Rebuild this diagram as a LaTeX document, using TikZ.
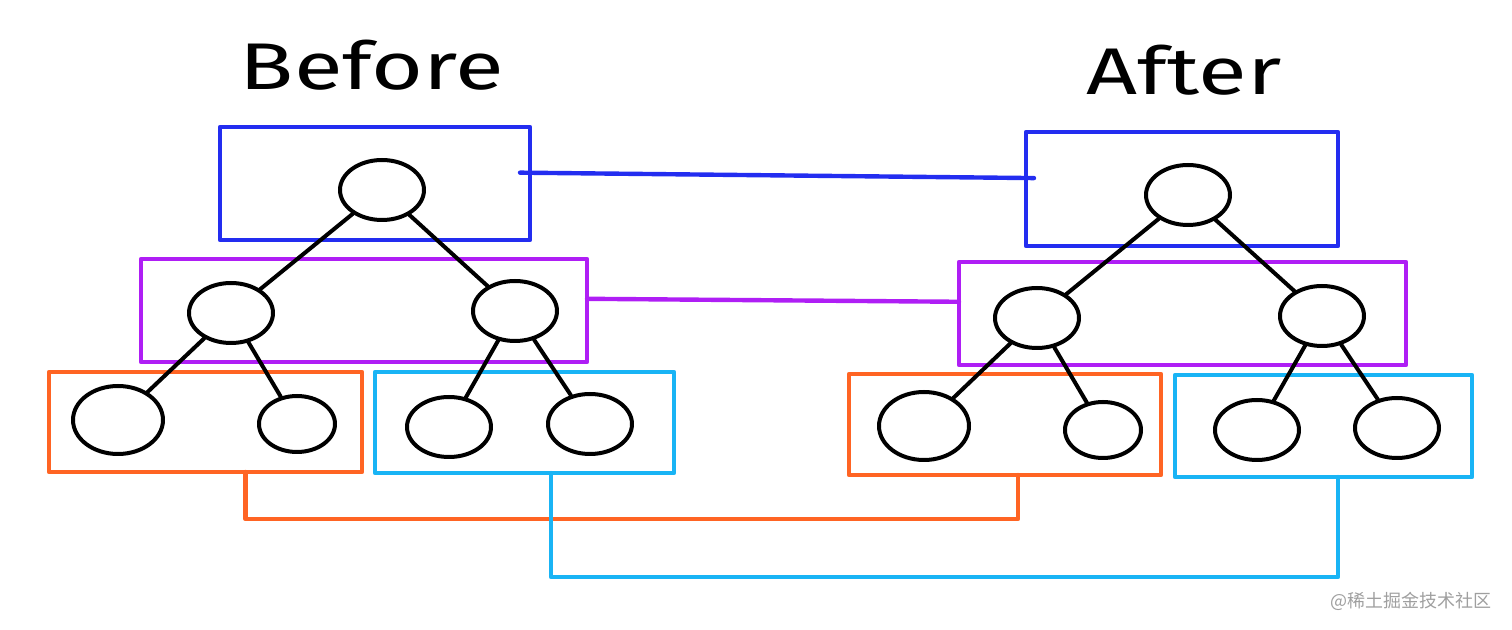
\documentclass[tikz,border=0pt]{standalone}
\usepackage{fontspec}
\usepackage{graphicx}
\usetikzlibrary{shapes.geometric,fit,positioning}
\setmainfont{Fira Sans}
\newfontfamily\cjk{Noto Sans CJK SC}
\definecolor{levelblue}{RGB}{35,45,240}
\definecolor{levelpurple}{RGB}{175,30,245}
\definecolor{levelorange}{RGB}{255,100,35}
\definecolor{levelcyan}{RGB}{25,180,245}

\begin{document}
\begin{tikzpicture}[
    x=0.5pt, y=-0.5pt,
    line join=round, line cap=round,
    vtx/.style={ellipse, draw=black, line width=2pt, minimum width=42pt, minimum height=30pt, inner sep=0pt},
    bigvtx/.style={vtx, minimum width=45pt, minimum height=34pt},
    smallvtx/.style={vtx, minimum width=38pt, minimum height=28pt},
    edge/.style={draw=black, line width=2pt},
    levelbox/.style={rectangle, draw=#1, line width=2.2pt, inner sep=0pt, outer sep=0pt},
    link/.style={draw=#1, line width=2.2pt},
    title/.style={font=\fontsize{33}{36}\selectfont}
]
\useasboundingbox (0,0) rectangle (1512,630);

% Titles
\node[title] (before) at (372,65) {\scalebox{1.35}[1]{Before}};
\node[title] (after) at (1184,70) {\scalebox{1.35}[1]{After}};

% Level boxes, before
\node[levelbox=levelblue, fit={(220,127) (530,240)}] (lblue) {};
\node[levelbox=levelpurple, fit={(141,259) (587,362)}] (lpurple) {};
\node[levelbox=levelorange, fit={(49,372) (362,472)}] (lorange) {};
\node[levelbox=levelcyan, fit={(375,372) (674,473)}] (lcyan) {};

% Level boxes, after
\node[levelbox=levelblue, fit={(1026,132) (1338,246)}] (rblue) {};
\node[levelbox=levelpurple, fit={(959,262) (1406,365)}] (rpurple) {};
\node[levelbox=levelorange, fit={(849,374) (1161,475)}] (rorange) {};
\node[levelbox=levelcyan, fit={(1175,375) (1472,477)}] (rcyan) {};

% Tree nodes, before
\node[vtx] (lroot) at (382,190) {};
\node[vtx] (lmidA) at (231,313) {};
\node[vtx] (lmidB) at (515,311) {};
\node[bigvtx] (lleafA) at (118,420) {};
\node[smallvtx] (lleafB) at (297,424) {};
\node[vtx] (lleafC) at (449,427) {};
\node[vtx] (lleafD) at (590,424) {};

% Tree nodes, after
\node[vtx] (rroot) at (1188,195) {};
\node[vtx] (rmidA) at (1037,318) {};
\node[vtx] (rmidB) at (1322,316) {};
\node[bigvtx] (rleafA) at (924,426) {};
\node[smallvtx] (rleafB) at (1103,430) {};
\node[vtx] (rleafC) at (1257,430) {};
\node[vtx] (rleafD) at (1397,428) {};

% Tree edges
\foreach \s in {l, r} {
    \draw[edge] (\s root) -- (\s midA);
    \draw[edge] (\s root) -- (\s midB);
    \draw[edge] (\s midA) -- (\s leafA);
    \draw[edge] (\s midA) -- (\s leafB);
    \draw[edge] (\s midB) -- (\s leafC);
    \draw[edge] (\s midB) -- (\s leafD);
}

% Links between matching levels
\draw[link=levelblue] ([xshift=-5pt]lblue.4) -- ([xshift=4pt]rblue.176);
\draw[link=levelpurple] (lpurple.3) -- (rpurple.177);
\draw[link=levelorange] ([xshift=20pt]lorange.south) -- ++(0,47) -| ([xshift=6.5pt]rorange.south);
\draw[link=levelcyan] ([xshift=13.25pt]lcyan.south) -- ++(0,104) -| ([xshift=7.25pt]rcyan.south);

% Watermark
\node[text=gray!75, font=\cjk\fontsize{9}{10}\selectfont] (mark) at (1411,601) {@稀土掘金技术社区};
\end{tikzpicture}
\end{document}
